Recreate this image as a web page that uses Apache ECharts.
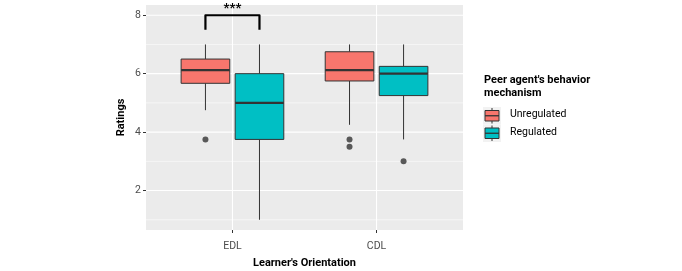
<!DOCTYPE html>
<html><head><meta charset="utf-8">
<script src="https://cdn.jsdelivr.net/npm/echarts@6/dist/echarts.min.js"></script>
<style>html,body{margin:0;padding:0;background:#fff}#c{width:682px;height:271px}</style>
</head><body><div id="c"></div>
<script>
const categories = ['EDL', 'CDL'];
const groupNames = ['Unregulated', 'Regulated'];
const groupColors = ['#F8766D', '#00BFC4'];
// [lower whisker, Q1, median, Q3, upper whisker]
const unregulatedStats = [[4.75, 5.67, 6.12, 6.5, 7], [4.25, 5.75, 6.12, 6.75, 7]];
const regulatedStats = [[1, 3.75, 5, 6, 7], [3.75, 5.25, 6, 6.25, 7]];
const unregulatedOutliers = [[3.75], [3.75, 3.5]];
const regulatedOutliers = [[], [3.0]];
const yTicks = [2, 4, 6, 8];
const yMinor = [1, 3, 5, 7];
const sigBracket = { category: 0, low: 7.5, high: 8, label: '***' };

const dodge = 0.1875, boxW = 0.3375;
const FONT = 'Roboto';

const boxData = [];
[unregulatedStats, regulatedStats].forEach((stats, g) => {
  stats.forEach((s, i) => {
    boxData.push([i + 1 + (g === 0 ? -dodge : dodge), s[0], s[1], s[2], s[3], s[4], g]);
  });
});
const outlierData = [];
[unregulatedOutliers, regulatedOutliers].forEach((outs, g) => {
  outs.forEach((arr, i) => arr.forEach(v => outlierData.push([i + 1 + (g === 0 ? -dodge : dodge), v])));
});
const gridLines = [];
yTicks.forEach(v => gridLines.push(['h', v, 1.1]));
yMinor.forEach(v => gridLines.push(['h', v, 0.55]));
categories.forEach((c, i) => gridLines.push(['v', i + 1, 1.1]));

const chart = echarts.init(document.getElementById('c'));
chart.setOption({
  animation: false,
  textStyle: { fontFamily: FONT },
  grid: { left: 146, right: 219, top: 5, bottom: 41, show: true, backgroundColor: '#EBEBEB', borderWidth: 0, containLabel: false, outerBoundsMode: 'none' },
  xAxis: {
    type: 'value', min: 0.4, max: 2.6,
    name: "Learner's Orientation", nameLocation: 'middle', nameGap: 28,
    nameTextStyle: { fontFamily: FONT, fontWeight: 'bold', fontSize: 11, color: '#000' },
    axisLine: { show: false },
    axisTick: { show: true, customValues: [1, 2], length: 3, lineStyle: { color: '#333' } },
    axisLabel: { customValues: [1, 2], formatter: v => categories[Math.round(v) - 1] || '', color: '#4D4D4D', fontSize: 10.5, margin: 11, fontFamily: FONT },
    splitLine: { show: false }
  },
  yAxis: {
    type: 'value', min: 0.65, max: 8.35,
    name: 'Ratings', nameLocation: 'middle', nameGap: 19, nameRotate: 90,
    nameTextStyle: { fontFamily: FONT, fontWeight: 'bold', fontSize: 11, color: '#000' },
    axisLine: { show: false },
    axisTick: { show: true, customValues: yTicks, length: 3, lineStyle: { color: '#333' } },
    axisLabel: { customValues: yTicks, color: '#4D4D4D', fontSize: 10.5, margin: 5, fontFamily: FONT },
    splitLine: { show: false }
  },
  series: [
    {
      type: 'custom', z: 1, silent: true,
      data: gridLines.map(d => [d[0] === 'h' ? 0 : 1, d[1], d[2]]),
      renderItem: (params, api) => {
        const horiz = api.value(0) === 0, v = api.value(1), w = api.value(2);
        const p1 = horiz ? api.coord([0.4, v]) : api.coord([v, 0.65]);
        const p2 = horiz ? api.coord([2.6, v]) : api.coord([v, 8.35]);
        return { type: 'line', shape: { x1: p1[0], y1: p1[1], x2: p2[0], y2: p2[1] }, style: { stroke: '#FFFFFF', lineWidth: w } };
      }
    },
    {
      type: 'custom', z: 3,
      data: boxData,
      renderItem: (params, api) => {
        const x = api.value(0);
        const lo = api.coord([x, api.value(1)]), q1 = api.coord([x, api.value(2)]);
        const md = api.coord([x, api.value(3)]), q3 = api.coord([x, api.value(4)]);
        const hi = api.coord([x, api.value(5)]);
        const w = api.size([boxW, 0])[0];
        const col = groupColors[api.value(6)];
        const l = lo[0] - w / 2;
        return {
          type: 'group', children: [
            { type: 'line', shape: { x1: hi[0], y1: hi[1], x2: q3[0], y2: q3[1] }, style: { stroke: '#333', lineWidth: 1 } },
            { type: 'line', shape: { x1: q1[0], y1: q1[1], x2: lo[0], y2: lo[1] }, style: { stroke: '#333', lineWidth: 1 } },
            { type: 'rect', shape: { x: l, y: q3[1], width: w, height: q1[1] - q3[1] }, style: { fill: col, stroke: '#333', lineWidth: 1 } },
            { type: 'line', shape: { x1: l, y1: md[1], x2: l + w, y2: md[1] }, style: { stroke: '#333', lineWidth: 2.2 } }
          ]
        };
      }
    },
    {
      type: 'scatter', z: 4, data: outlierData, symbol: 'circle', symbolSize: 6,
      itemStyle: { color: '#333' }
    },
    {
      type: 'custom', z: 5,
      data: [[sigBracket.category + 1 - dodge, sigBracket.category + 1 + dodge, sigBracket.low, sigBracket.high]],
      renderItem: (params, api) => {
        const a = api.coord([api.value(0), api.value(2)]), b = api.coord([api.value(0), api.value(3)]);
        const c = api.coord([api.value(1), api.value(3)]), d = api.coord([api.value(1), api.value(2)]);
        return {
          type: 'group', children: [
            { type: 'polyline', shape: { points: [a, b, c, d] }, style: { stroke: '#000', lineWidth: 2.2, fill: null, lineJoin: 'round' } },
            { type: 'text', style: { text: sigBracket.label, x: (b[0] + c[0]) / 2, y: b[1] - 6, align: 'center', verticalAlign: 'middle', fill: '#000', font: 'bold 13px ' + FONT } }
          ]
        };
      }
    }
  ],
  graphic: [
    { type: 'text', left: 484, top: 74, style: { text: "Peer agent's behavior\nmechanism", fill: '#000', font: 'bold 11px ' + FONT, lineHeight: 12.5 } },
    ...groupNames.flatMap((n, i) => {
      const y = 107 + i * 17.5;
      return [
        { type: 'rect', shape: { x: 483, y: y, width: 18, height: 17.5 }, style: { fill: '#F2F2F2' } },
        { type: 'line', shape: { x1: 492, y1: y + 1, x2: 492, y2: y + 16.5 }, style: { stroke: '#333', lineWidth: 1 } },
        { type: 'rect', shape: { x: 485, y: y + 3.5, width: 14, height: 10.5 }, style: { fill: groupColors[i], stroke: '#333', lineWidth: 1 } },
        { type: 'line', shape: { x1: 485, y1: y + 8.75, x2: 499, y2: y + 8.75 }, style: { stroke: '#333', lineWidth: 1.3 } },
        { type: 'text', left: 510, top: y + 2, style: { text: n, fill: '#000', font: '10.5px ' + FONT } }
      ];
    })
  ]
});
</script></body></html>
